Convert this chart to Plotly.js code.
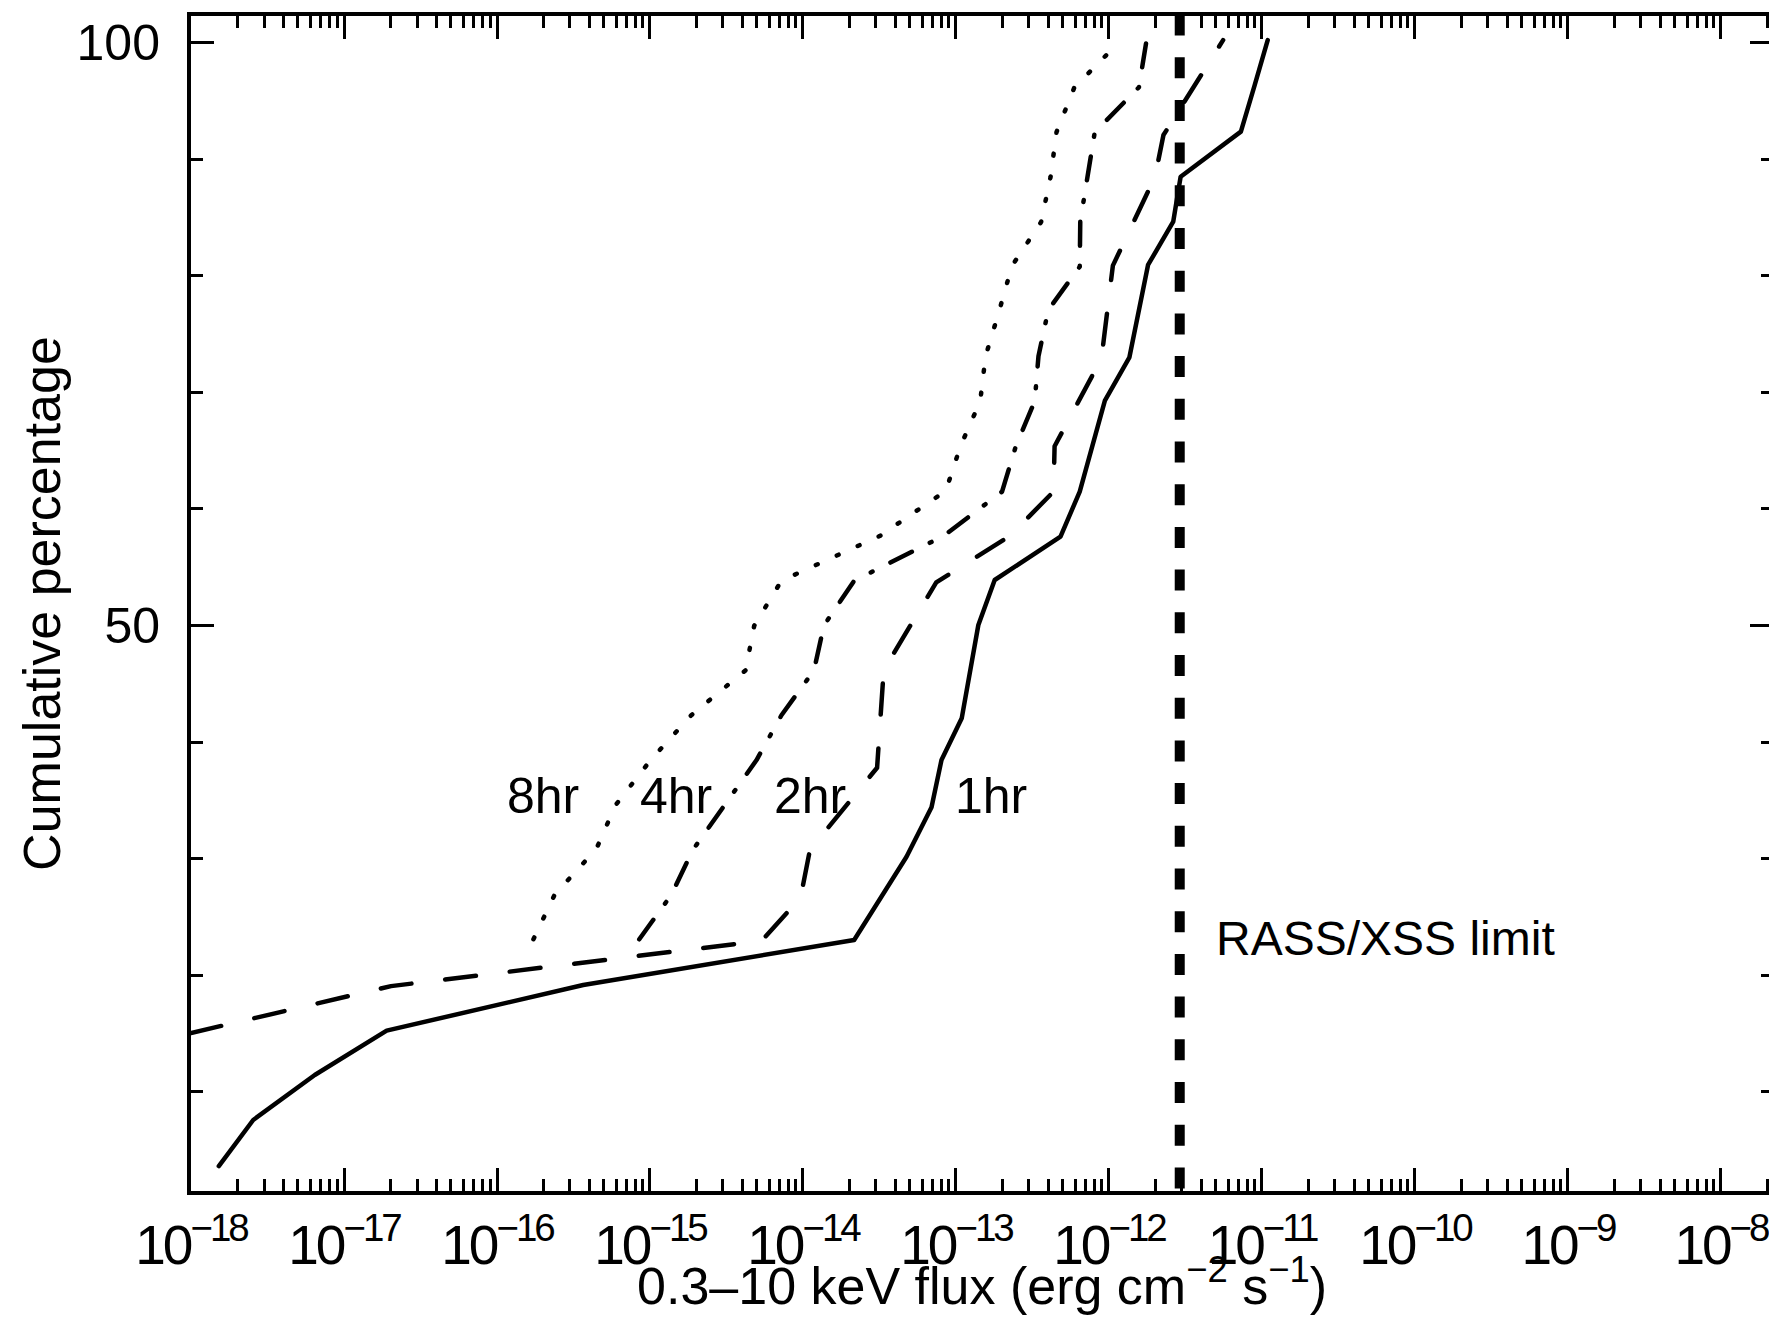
<!DOCTYPE html>
<html>
<head>
<meta charset="utf-8">
<script src="https://cdn.plot.ly/plotly-3.0.1.min.js"></script>
<style>
html,body{margin:0;padding:0;overflow:hidden;background:#fff;}
#chart{width:1775px;height:1327px;}
.scatterlayer .trace path.js-line{stroke-linecap:round;stroke-linejoin:round;}
.scatterlayer .tracerass path.js-line{stroke-linecap:butt;}
.xtick text{letter-spacing:-3px;}
.g-xtitle{transform:translate(0px,-6px);}
</style>
</head>
<body>
<div id="chart"></div>
<script>
// 1hr (solid)
const flux1hr = [1.52e-18, 2.55e-18, 6.44e-18, 1.90e-17, 3.66e-16, 2.16e-14, 4.75e-14, 6.92e-14, 8.04e-14, 1.09e-13, 1.40e-13, 1.79e-13, 4.82e-13, 6.44e-13, 9.40e-13, 1.36e-12, 1.80e-12, 2.63e-12, 2.94e-12, 7.28e-12, 8.97e-12, 1.09e-11];
const pct1hr  = [3.64, 7.59, 11.45, 15.25, 19.17, 23.03, 30.17, 34.41, 38.46, 42.04, 50.04, 53.9, 57.62, 61.48, 69.28, 73.0, 80.92, 84.63, 88.49, 92.35, 96.36, 100.2];

// 2hr (dashed)
const flux2hr = [1.00e-18, 2.03e-17, 5.37e-15, 9.64e-15, 1.11e-14, 3.05e-14, 3.37e-14, 7.43e-14, 2.25e-13, 4.34e-13, 4.41e-13, 8.93e-13, 1.06e-12, 2.00e-12, 2.27e-12, 5.57e-12];
const pct2hr  = [15.05, 19.07, 22.96, 26.66, 30.75, 37.8, 46.18, 53.7, 57.68, 61.48, 65.37, 72.9, 80.86, 88.49, 92.06, 100.2];

// 4hr (dash-dot)
const flux4hr = [8.51e-16, 1.38e-15, 1.91e-15, 3.05e-15, 4.97e-15, 7.23e-15, 1.18e-14, 1.37e-14, 2.16e-14, 8.32e-14, 2.00e-13, 2.46e-13, 3.27e-13, 3.46e-13, 4.01e-13, 6.44e-13, 6.49e-13, 7.23e-13, 8.07e-13, 1.57e-12, 1.75e-12];
const pct4hr  = [23.09, 26.91, 30.77, 34.6, 38.46, 42.3, 46.15, 50.0, 53.84, 57.69, 61.48, 65.37, 69.23, 73.09, 77.06, 80.77, 84.63, 88.46, 92.3, 96.16, 100.0];

// 8hr (dotted)
const flux8hr = [1.73e-16, 2.38e-16, 4.47e-16, 5.96e-16, 1.01e-15, 1.86e-15, 4.21e-15, 4.80e-15, 7.23e-15, 3.17e-14, 8.57e-14, 1.07e-13, 1.44e-13, 1.56e-13, 1.91e-13, 2.32e-13, 3.60e-13, 4.15e-13, 4.54e-13, 5.94e-13, 1.16e-12];
const pct8hr  = [23.09, 26.91, 30.86, 34.6, 38.46, 42.3, 46.15, 49.98, 53.84, 57.67, 61.54, 65.38, 69.23, 73.08, 76.92, 80.83, 84.6, 88.46, 92.31, 96.15, 100.0];

// RASS/XSS limit
const rassFlux = [2.9e-12, 2.9e-12];
const rassPct  = [102.4, 0];

const FONT = '"Liberation Sans", Arial, Helvetica, sans-serif';

const traces = [
  {x: flux1hr, y: pct1hr, mode: 'lines', name: '1hr', line: {color: '#000', width: 4.5}},
  {x: flux2hr, y: pct2hr, mode: 'lines', name: '2hr', line: {color: '#000', width: 4.5, dash: '31px,34px'}},
  {x: flux4hr, y: pct4hr, mode: 'lines', name: '4hr', line: {color: '#000', width: 4.5, dash: '24px,20px,2px,20px'}},
  {x: flux8hr, y: pct8hr, mode: 'lines', name: '8hr', line: {color: '#000', width: 4.5, dash: '2px,21px'}},
  {x: rassFlux, y: rassPct, mode: 'lines', name: 'RASS/XSS limit', uid: 'rass', line: {color: '#000', width: 10, dash: '21px,21.7px'}}
];

const layout = {
  width: 1775, height: 1327,
  margin: {l: 191, r: 2, t: 16, b: 136},
  paper_bgcolor: '#fff', plot_bgcolor: '#fff',
  showlegend: false,
  font: {family: FONT, color: '#000', size: 48},
  xaxis: {
    type: 'log', range: [-18, -7.660], autorange: false,
    showline: true, linewidth: 4, linecolor: '#000', mirror: 'allticks',
    ticks: 'inside', ticklen: 23, tickwidth: 3, tickcolor: '#000',
    dtick: 1, exponentformat: 'power', showexponent: 'all',
    showgrid: false, zeroline: false,
    tickfont: {family: FONT, size: 44, color: '#000'},
    ticklabelstandoff: 5, ticklabeloverflow: 'allow',
    minor: {ticks: 'inside', ticklen: 12, tickwidth: 3, tickcolor: '#000', dtick: 'D1', showgrid: false},
    title: {text: '0.3–10 keV flux (erg cm<sup>−2</sup> s<sup>−1</sup>)', font: {family: FONT, size: 52, color: '#000'}, standoff: 0}
  },
  yaxis: {
    range: [1.50, 102.27], autorange: false,
    showline: true, linewidth: 4, linecolor: '#000', mirror: 'allticks',
    ticks: 'inside', ticklen: 23, tickwidth: 3, tickcolor: '#000',
    tick0: 0, dtick: 50,
    showgrid: false, zeroline: false,
    tickfont: {family: FONT, size: 50, color: '#000'},
    ticklabelstandoff: 17,
    minor: {ticks: 'inside', ticklen: 12, tickwidth: 3, tickcolor: '#000', dtick: 10, showgrid: false},
    title: {text: 'Cumulative percentage', font: {family: FONT, size: 52, color: '#000'}, standoff: 0}
  },
  annotations: [
    {text: '8hr', x: -15.701, y: 35.4, xref: 'x', yref: 'y', showarrow: false, font: {family: FONT, size: 50, color: '#000'}},
    {text: '4hr', x: -14.833, y: 35.4, xref: 'x', yref: 'y', showarrow: false, font: {family: FONT, size: 50, color: '#000'}},
    {text: '2hr', x: -13.956, y: 35.4, xref: 'x', yref: 'y', showarrow: false, font: {family: FONT, size: 50, color: '#000'}},
    {text: '1hr', x: -12.768, y: 35.4, xref: 'x', yref: 'y', showarrow: false, font: {family: FONT, size: 50, color: '#000'}},
    {text: 'RASS/XSS limit', x: -11.313, y: 23.16, xref: 'x', yref: 'y', xanchor: 'left', showarrow: false, font: {family: FONT, size: 48, color: '#000'}}
  ]
};

Plotly.newPlot('chart', traces, layout, {staticPlot: true, displayModeBar: false});
</script>
</body>
</html>
